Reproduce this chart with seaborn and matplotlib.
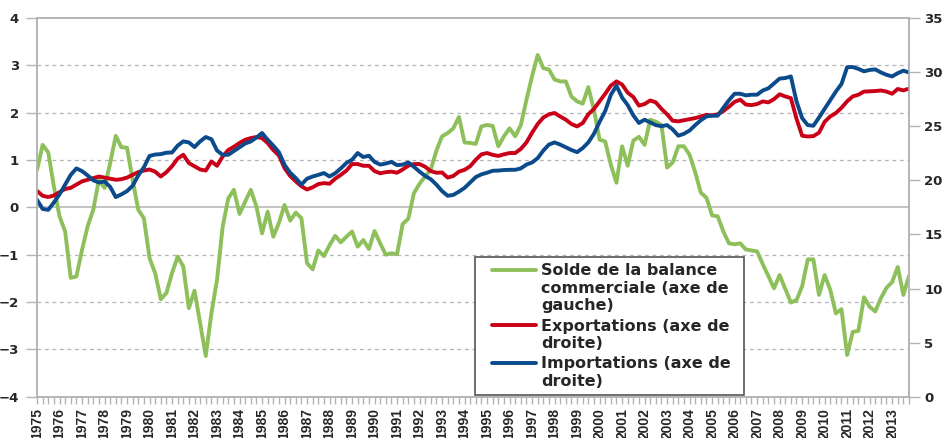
import numpy as np
import pandas as pd
import matplotlib
matplotlib.use("Agg")
import matplotlib.pyplot as plt
from matplotlib.ticker import MultipleLocator, FixedLocator
from matplotlib.legend_handler import HandlerLine2D
import seaborn as sns

# Quarterly series, 1975 Q1 - 2013 Q4
years = list(range(1975, 2014))

# Trade balance, % of GDP (left axis)
solde = [
    0.79, 1.32, 1.16, 0.44, -0.19, -0.51, -1.49, -1.46, -0.90, -0.40,
    -0.05, 0.58, 0.41, 0.93, 1.51, 1.27, 1.26, 0.58, -0.05, -0.23,
    -1.07, -1.39, -1.94, -1.81, -1.39, -1.04, -1.25, -2.13, -1.76, -2.45,
    -3.14, -2.24, -1.53, -0.41, 0.19, 0.37, -0.14, 0.12, 0.37, 0.02,
    -0.55, -0.09, -0.62, -0.33, 0.05, -0.28, -0.11, -0.23, -1.18, -1.31,
    -0.91, -1.03, -0.80, -0.60, -0.74, -0.62, -0.51, -0.83, -0.69, -0.88,
    -0.50, -0.76, -1.00, -0.97, -0.99, -0.35, -0.24, 0.30, 0.50, 0.65,
    0.80, 1.20, 1.50, 1.57, 1.67, 1.91, 1.37, 1.36, 1.34, 1.71,
    1.74, 1.72, 1.29, 1.50, 1.67, 1.50, 1.74, 2.27, 2.77, 3.22,
    2.94, 2.91, 2.70, 2.66, 2.66, 2.34, 2.24, 2.19, 2.54, 2.06,
    1.43, 1.39, 0.90, 0.52, 1.29, 0.88, 1.41, 1.49, 1.32, 1.85,
    1.81, 1.74, 0.84, 0.95, 1.29, 1.29, 1.11, 0.74, 0.31, 0.20,
    -0.17, -0.19, -0.51, -0.76, -0.78, -0.76, -0.89, -0.91, -0.93, -1.20,
    -1.45, -1.71, -1.43, -1.72, -2.01, -1.96, -1.67, -1.10, -1.10, -1.85,
    -1.43, -1.74, -2.24, -2.15, -3.12, -2.63, -2.61, -1.90, -2.10, -2.20,
    -1.92, -1.70, -1.58, -1.26, -1.85, -1.45,
]

# Exports, % of GDP (right axis)
exportations = [
    19.02, 18.57, 18.45, 18.60, 18.90, 19.20, 19.30, 19.60, 19.90, 20.05,
    20.20, 20.35, 20.25, 20.15, 20.05, 20.10, 20.25, 20.50, 20.76, 20.90,
    21.00, 20.80, 20.35, 20.75, 21.30, 22.00, 22.36, 21.59, 21.30, 21.00,
    20.90, 21.74, 21.34, 22.20, 22.80, 23.10, 23.45, 23.75, 23.90, 24.00,
    23.90, 23.44, 22.80, 22.30, 21.13, 20.40, 19.90, 19.45, 19.15, 19.35,
    19.65, 19.74, 19.68, 20.15, 20.50, 20.90, 21.50, 21.50, 21.34, 21.34,
    20.85, 20.65, 20.75, 20.80, 20.70, 21.00, 21.35, 21.50, 21.50, 21.25,
    20.85, 20.70, 20.72, 20.25, 20.40, 20.80, 20.97, 21.30, 21.90, 22.40,
    22.52, 22.35, 22.25, 22.40, 22.52, 22.52, 22.90, 23.50, 24.40, 25.20,
    25.80, 26.10, 26.22, 25.90, 25.60, 25.20, 24.98, 25.29, 26.10, 26.60,
    27.30, 28.00, 28.75, 29.14, 28.85, 28.10, 27.70, 26.90, 27.05, 27.38,
    27.20, 26.60, 26.10, 25.50, 25.45, 25.55, 25.65, 25.75, 25.90, 26.05,
    26.00, 26.10, 26.40, 26.80, 27.25, 27.45, 27.00, 26.95, 27.05, 27.29,
    27.20, 27.50, 27.95, 27.75, 27.60, 25.70, 24.12, 24.05, 24.08, 24.40,
    25.40, 25.90, 26.22, 26.70, 27.30, 27.75, 27.91, 28.20, 28.22, 28.25,
    28.30, 28.20, 28.00, 28.44, 28.31, 28.47,
]

# Imports, % of GDP (right axis)
importations = [
    18.20, 17.35, 17.27, 17.95, 18.70, 19.60, 20.50, 21.10, 20.85, 20.45,
    20.00, 19.80, 19.89, 19.40, 18.45, 18.70, 19.00, 19.50, 20.45, 21.20,
    22.25, 22.38, 22.42, 22.55, 22.57, 23.20, 23.60, 23.50, 23.07, 23.60,
    24.00, 23.80, 22.75, 22.35, 22.36, 22.70, 23.05, 23.40, 23.59, 23.95,
    24.37, 23.75, 23.20, 22.60, 21.43, 20.70, 20.20, 19.60, 20.15, 20.35,
    20.50, 20.67, 20.35, 20.65, 21.10, 21.60, 21.90, 22.52, 22.15, 22.27,
    21.70, 21.45, 21.55, 21.70, 21.40, 21.45, 21.65, 21.25, 20.80, 20.40,
    20.10, 19.60, 19.00, 18.57, 18.65, 18.95, 19.30, 19.80, 20.30, 20.55,
    20.70, 20.88, 20.90, 20.95, 20.97, 20.97, 21.10, 21.45, 21.65, 22.05,
    22.75, 23.30, 23.50, 23.30, 23.05, 22.80, 22.60, 22.98, 23.50, 24.30,
    25.40, 26.40, 27.90, 28.74, 27.65, 26.95, 26.00, 25.30, 25.60, 25.35,
    25.10, 25.00, 25.10, 24.70, 24.12, 24.30, 24.60, 25.10, 25.55, 25.90,
    25.97, 25.97, 26.70, 27.40, 28.00, 28.00, 27.85, 27.91, 27.91, 28.30,
    28.50, 28.95, 29.40, 29.45, 29.60, 27.30, 25.75, 25.10, 25.04, 25.80,
    26.60, 27.40, 28.20, 28.90, 30.45, 30.47, 30.30, 30.07, 30.20, 30.25,
    29.97, 29.75, 29.60, 29.90, 30.13, 29.97,
]

labels = [
    "Solde de la balance\ncommerciale (axe de\ngauche)",
    "Exportations (axe de\ndroite)",
    "Importations (axe de\ndroite)",
]

df = pd.DataFrame({
    "t": np.arange(len(solde)),
    "solde": solde,
    "exportations": exportations,
    "importations": importations,
})

GREEN = "#8DC05A"
RED = "#C90018"
BLUE = "#0B4A8B"
GRID = "#B3B3B3"
LW = 2.8
DPI = 100

sns.set_theme(style="white")
plt.rcParams["font.family"] = ["DejaVu Sans"]
plt.rcParams["font.weight"] = "bold"

fig = plt.figure(figsize=(9.44, 4.38), dpi=DPI)
ax = fig.add_axes([37 / 944, (438 - 396.7) / 438, 872 / 944, 378.7 / 438])
ax2 = ax.twinx()

sns.lineplot(data=df, x="t", y="solde", ax=ax, color=GREEN, lw=LW, legend=False)
sns.lineplot(data=df, x="t", y="exportations", ax=ax2, color=RED, lw=LW, legend=False)
sns.lineplot(data=df, x="t", y="importations", ax=ax2, color=BLUE, lw=LW, legend=False)

ax.set_xlim(0, len(solde) - 1)
ax.set_ylim(-4, 4)
ax2.set_ylim(0, 35)
for a in (ax, ax2):
    a.set_xlabel("")
    a.set_ylabel("")

# horizontal guides of the left scale
for v in (-3, -2, -1, 1, 2, 3):
    ax.axhline(v, color=GRID, lw=0.9, ls=(0, (3, 3)), zorder=0)
ax.axhline(0, color=GRID, lw=1.1, zorder=0)

ax.set_yticks(range(-4, 5))
ax2.set_yticks(range(0, 36, 5))

year_pos = [4 * i for i in range(len(years))]
ax.xaxis.set_major_locator(FixedLocator(year_pos))
ax.xaxis.set_minor_locator(MultipleLocator(1))
ax.set_xticklabels([str(y) for y in years], rotation=90,
                   fontfamily="Liberation Sans", fontweight="bold", fontsize=10)

ax.tick_params(axis="x", which="both", direction="out", length=5, width=1,
               color=GRID, pad=3, bottom=True)
ax.tick_params(axis="y", direction="out", length=8, width=1, color=GRID,
               pad=5, labelsize=9.5, left=True)
ax2.tick_params(axis="y", direction="out", length=8, width=1, color=GRID,
                pad=3, labelsize=9.5, right=True)
for t in ax.get_yticklabels() + ax2.get_yticklabels():
    t.set_fontweight("bold")

for a in (ax, ax2):
    for s in a.spines.values():
        s.set_visible(True)
        s.set_color(GRID)
        s.set_linewidth(1.1)


class ShortLineHandler(HandlerLine2D):
    """Legend line that leaves a gap on its left side."""

    def create_artists(self, legend, orig_handle, xdescent, ydescent,
                       width, height, fontsize, trans):
        artists = super().create_artists(legend, orig_handle, xdescent, ydescent,
                                         width, height, fontsize, trans)
        y = (height - ydescent) / 2
        for a in artists:
            a.set_data([0.2 * width, width], [y, y])
            a.set_marker("None")
        return artists


handles = [ax.get_lines()[0], ax2.get_lines()[0], ax2.get_lines()[1]]
hmap = {h: ShortLineHandler() for h in handles}

FS = 11.5
x0 = (475 - 37) / 872
x1 = (744 - 37) / 872
y1 = (396.7 - 257) / 378.7
leg = ax2.legend(handles, labels, handler_map=hmap,
                 loc="upper left", bbox_to_anchor=(x0, y1 - 0.5, x1 - x0, 0.5),
                 mode="expand", borderaxespad=0, fancybox=False,
                 frameon=True, framealpha=1, edgecolor="#555555",
                 prop={"family": "DejaVu Sans", "weight": "bold", "size": FS},
                 handlelength=3.45, handletextpad=0.3, labelspacing=0.34,
                 borderpad=0.4)
leg.get_frame().set_linewidth(1.2)
for t in leg.get_texts():
    t.set_linespacing(1.2)

# level each legend line with the first line of its label
fig.canvas.draw()
renderer = fig.canvas.get_renderer()
fs_px = FS * DPI / 72
for h, t in zip(leg.legend_handles, leg.get_texts()):
    bb = t.get_window_extent(renderer)
    target = bb.y1 - 0.42 * fs_px
    yd = np.asarray(h.get_ydata(), dtype=float)
    cur = h.get_transform().transform([[0, yd[0]]])[0][1]
    h.set_ydata(yd + (target - cur) * 72 / DPI)

fig.savefig("out.png", dpi=DPI)
